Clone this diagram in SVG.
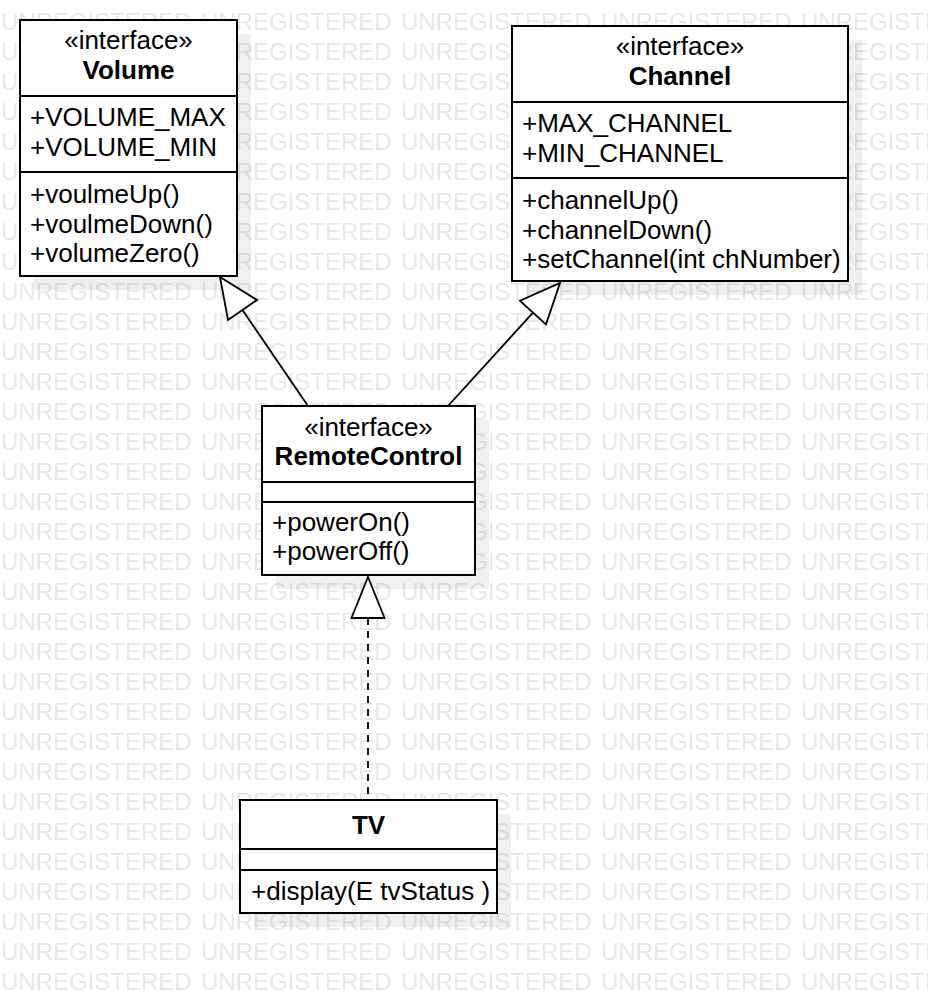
<svg xmlns="http://www.w3.org/2000/svg" width="928" height="994" viewBox="0 0 928 994">
<style>
.wm{font-family:"Liberation Sans",Arial,sans-serif;font-size:24px;fill:#e8e8e8}
.t{font-family:"Liberation Sans",Arial,sans-serif;font-size:26px;fill:#000}
.c{text-anchor:middle}
.b{font-weight:bold}
.box{fill:#fff;stroke:#000;stroke-width:2}
.sh{fill:#000;fill-opacity:0.06}
.dv{stroke:#000;stroke-width:2}
.edge{fill:none;stroke:#000;stroke-width:1.8}
.head{fill:#fff;stroke:#000;stroke-width:1.8;stroke-linejoin:miter}
.dash{stroke-dasharray:7 6}
</style>
<defs>
<pattern id="wmp" patternUnits="userSpaceOnUse" x="0" y="5" width="200" height="30"><text class="wm" x="1" y="25">UNREGISTERED</text></pattern>
</defs>
<rect width="928" height="994" fill="#fff"/>
<rect id="watermark" width="928" height="994" fill="url(#wmp)"/>

<g id="Volume">
<rect class="sh" x="34" y="34" width="217" height="256"/>
<rect class="box" x="20" y="20" width="217" height="256"/>
<line class="dv" x1="20" y1="96" x2="237" y2="96"/>
<line class="dv" x1="20" y1="172" x2="237" y2="172"/>
<text class="t c" x="128.5" y="49">«interface»</text>
<text class="t c b" x="128.5" y="79">Volume</text>
<text class="t" x="30" y="126">+VOLUME_MAX</text>
<text class="t" x="30" y="156">+VOLUME_MIN</text>
<text class="t" x="30" y="203">+voulmeUp()</text>
<text class="t" x="30" y="233">+voulmeDown()</text>
<text class="t" x="30" y="262">+volumeZero()</text>
</g>

<g id="Channel">
<rect class="sh" x="526" y="40" width="336" height="255"/>
<rect class="box" x="512" y="26" width="336" height="255"/>
<line class="dv" x1="512" y1="102" x2="848" y2="102"/>
<line class="dv" x1="512" y1="178" x2="848" y2="178"/>
<text class="t c" x="680" y="55">«interface»</text>
<text class="t c b" x="680" y="85">Channel</text>
<text class="t" x="522" y="132">+MAX_CHANNEL</text>
<text class="t" x="522" y="162">+MIN_CHANNEL</text>
<text class="t" x="522" y="209">+channelUp()</text>
<text class="t" x="522" y="239">+channelDown()</text>
<text class="t" x="522" y="268">+setChannel(int chNumber)</text>
</g>

<g id="RemoteControl">
<rect class="sh" x="276" y="420" width="213" height="169"/>
<rect class="box" x="262" y="406" width="213" height="169"/>
<line class="dv" x1="262" y1="482" x2="475" y2="482"/>
<line class="dv" x1="262" y1="502" x2="475" y2="502"/>
<text class="t c" x="368.5" y="436">«interface»</text>
<text class="t c b" x="368.5" y="465">RemoteControl</text>
<text class="t" x="272" y="531">+powerOn()</text>
<text class="t" x="272" y="560">+powerOff()</text>
</g>

<g id="TV">
<rect class="sh" x="254" y="814" width="257" height="113"/>
<rect class="box" x="240" y="800" width="257" height="113"/>
<line class="dv" x1="240" y1="849" x2="497" y2="849"/>
<line class="dv" x1="240" y1="870" x2="497" y2="870"/>
<text class="t c b" x="368.5" y="834">TV</text>
<text class="t" x="251" y="900">+display(E tvStatus )</text>
</g>

<g id="connectors">
<line class="edge" x1="242.5" y1="310" x2="308" y2="406"/>
<polygon class="head" points="220,277 257,300 228,320"/>
<line class="edge" x1="533" y1="312.6" x2="448" y2="406"/>
<polygon class="head" points="560,283 546,324.4 520,300.8"/>
<line class="edge dash" x1="368" y1="618" x2="368" y2="800"/>
<polygon class="head" points="368,577 384.5,618 351.5,618"/>
</g>
</svg>
